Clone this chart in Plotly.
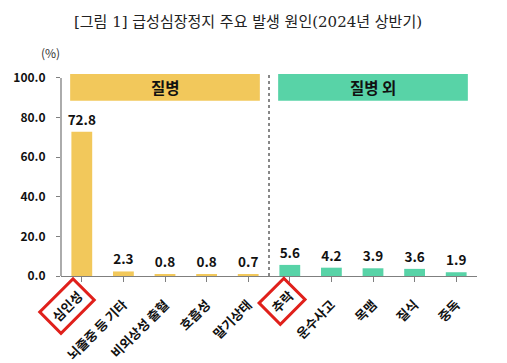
import plotly.graph_objects as go

categories = ["심인성", "뇌졸중 등 기타", "비외상성 출혈", "호흡성", "말기상태",
              "추락", "운수사고", "목맴", "질식", "중독"]
values = [72.8, 2.3, 0.8, 0.8, 0.7, 5.6, 4.2, 3.9, 3.6, 1.9]
groups = ["질병"] * 5 + ["질병 외"] * 5
group_names = ["질병", "질병 외"]
highlighted = ["심인성", "추락"]
y_ticks = [0, 20, 40, 60, 80, 100]

YELLOW = "#F2C85B"
GREEN = "#58D3A7"
RED = "#E0201B"
FONT = "Noto Sans CJK KR"

# page body has an 8px margin; figure coordinates are offset accordingly
OFF = 8
W_FIG, H_FIG = 507, 363
L, R_EDGE, T, B_EDGE = 61 - OFF, 477 - OFF, 74 - OFF, 275.7 - OFF

colors = [YELLOW if g == "질병" else GREEN for g in groups]
xs = list(range(len(categories)))
n = len(categories)
tick_text = ["" if c in highlighted else c for c in categories]

fig = go.Figure()
fig.add_trace(go.Bar(
    x=xs, y=values, width=0.5, marker=dict(color=colors, line=dict(width=0)),
    text=[f"{v:.1f}" for v in values], textposition="outside", constraintext="none",
    textfont=dict(family=FONT, size=13.5, color="#111", weight="bold"),
    cliponaxis=False, hoverinfo="skip",
))

shapes = []
annotations = []
# y axis line (0..100)
shapes.append(dict(type="line", xref="paper", yref="y", x0=0, x1=0, y0=0, y1=100,
                   line=dict(color="#7f7f7f", width=1.3)))
# group header bands
for gname, col in zip(group_names, [YELLOW, GREEN]):
    idx = [i for i, g in enumerate(groups) if g == gname]
    x0, x1 = min(idx) - 0.28, max(idx) + 0.28
    shapes.append(dict(type="rect", xref="x", yref="y", x0=x0, x1=x1, y0=88.5, y1=102,
                       fillcolor=col, line=dict(width=0), layer="below"))
    annotations.append(dict(x=(min(idx) + max(idx)) / 2, y=95.2, xref="x", yref="y",
                            text=gname, showarrow=False,
                            font=dict(family=FONT, size=15.5, color="#111", weight="bold")))
# dashed separator
sep = groups.index("질병 외") - 0.5
shapes.append(dict(type="line", xref="x", yref="y", x0=sep, x1=sep, y0=0, y1=101.5,
                   line=dict(color="#111", width=1, dash="dot")))

# highlighted category labels with rotated red frames
box_shift = {"심인성": (-15.3, -30.3), "추락": (-8, -25.3)}
for name in highlighted:
    i = categories.index(name)
    sx, sy = box_shift[name]
    annotations.append(dict(x=i, y=0, xref="x", yref="y", text=name, showarrow=False,
                            xanchor="center", yanchor="middle", xshift=sx, yshift=sy,
                            textangle=-45, bordercolor=RED, borderwidth=3, borderpad=4,
                            font=dict(family=FONT, size=13, color="#111", weight="bold")))

annotations.append(dict(x=(50 - OFF - L) / (R_EDGE - L), y=1 + (T - (53 - OFF)) / (B_EDGE - T),
                        xref="paper", yref="paper", text="(%)",
                        showarrow=False, xanchor="center", yanchor="middle",
                        font=dict(family=FONT, size=12, color="#333")))

fig.update_layout(
    width=W_FIG, height=H_FIG,
    margin=dict(l=L, r=W_FIG - R_EDGE, t=T, b=H_FIG - B_EDGE, autoexpand=False),
    paper_bgcolor="white", plot_bgcolor="white",
    showlegend=False,
    title=dict(text="[그림 1] 급성심장정지 주요 발생 원인(2024년 상반기)",
               x=(248 - OFF) / W_FIG, xanchor="center", y=1 - (22 - OFF) / H_FIG, yanchor="middle",
               font=dict(family="DejaVu Serif, " + FONT, size=15, color="#222")),
    xaxis=dict(range=[-0.5, n - 0.5], tickmode="array", tickvals=xs,
               ticktext=tick_text, tickangle=-45, tickson="boundaries",
               ticks="outside", ticklen=5, tickcolor="#7f7f7f", tickwidth=1.3,
               showline=True, linecolor="#7f7f7f", linewidth=1.3,
               showgrid=False, zeroline=False, automargin=False, ticklabelstandoff=10,
               tickfont=dict(family=FONT, size=13, color="#111", weight="bold")),
    yaxis=dict(range=[0, 102], tickvals=y_ticks, ticktext=[f"{v:.1f}" for v in y_ticks],
               ticks="outside", ticklen=4, tickcolor="#7f7f7f", tickwidth=1.3,
               showline=False, showgrid=False, zeroline=False, ticklabelstandoff=8,
               automargin=False,
               tickfont=dict(family=FONT, size=12, color="#111", weight="bold")),
    shapes=shapes, annotations=annotations,
)

fig.write_html("out.html")
